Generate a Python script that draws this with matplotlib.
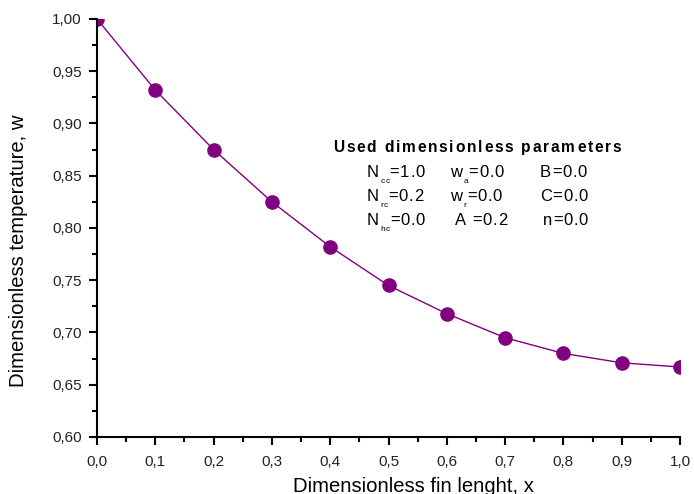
import matplotlib
matplotlib.use("Agg")
import matplotlib.pyplot as plt
from matplotlib.ticker import MultipleLocator, FuncFormatter
from matplotlib.font_manager import FontProperties, findfont, get_font

# ==========================================================
# Data
# ==========================================================

x_vals = [0.0, 0.1, 0.2, 0.3, 0.4, 0.5, 0.6, 0.7, 0.8, 0.9, 1.0]
w_vals = [1.000, 0.932, 0.875, 0.825, 0.782, 0.745, 0.718, 0.695, 0.680, 0.671, 0.667]

title_text = "Used dimensionless parameters"

# each entry: (main, subscript, rest)
param_rows = [
    [("N", "cc", "=1.0"), ("w", "a", "=0.0"), ("B", "", "=0.0")],
    [("N", "rc", "=0.2"), ("w", "r", "=0.0"), ("C", "", "=0.0")],
    [("N", "hc", "=0.0"), ("A", "", " =0.2"), ("n", "", "=0.0")],
]

PURPLE = "#800080"
W, H = 694, 494

plt.rcParams["font.family"] = ["Liberation Sans", "DejaVu Sans"]

fig = plt.figure(figsize=(W / 100, H / 100), dpi=100)
ax = fig.add_axes([97 / W, 57 / H, 583 / W, 418 / H])

ax.plot(x_vals, w_vals, color=PURPLE, lw=1.0, marker="o",
        markersize=9.5, markerfacecolor=PURPLE, markeredgecolor=PURPLE)

ax.set_xlim(0, 1.0)
ax.set_ylim(0.60, 1.00)

ax.xaxis.set_major_locator(MultipleLocator(0.1))
ax.xaxis.set_minor_locator(MultipleLocator(0.05))
ax.yaxis.set_major_locator(MultipleLocator(0.05))
ax.yaxis.set_minor_locator(MultipleLocator(0.025))

ax.xaxis.set_major_formatter(FuncFormatter(lambda v, p: f"{v:.1f}".replace(".", ",")))
ax.yaxis.set_major_formatter(FuncFormatter(lambda v, p: f"{v:.2f}".replace(".", ",")))

for s in ["top", "right"]:
    ax.spines[s].set_visible(False)
for s in ["left", "bottom"]:
    ax.spines[s].set_linewidth(1.5)

ax.tick_params(which="major", direction="out", length=6, width=1.5,
               labelsize=11, colors="black")
ax.tick_params(which="minor", direction="out", length=3.5, width=1.5)
ax.tick_params(axis="x", which="major", pad=7)
ax.tick_params(axis="y", which="major", pad=5)
for lbl in ax.get_xticklabels() + ax.get_yticklabels():
    lbl.set_color("#222222")

ax.set_xlabel("Dimensionless fin lenght, x", fontsize=14.6)
ax.set_ylabel("Dimensionless temperature, w", fontsize=14.6)
ax.xaxis.set_label_coords(0.542, -0.096)
ax.yaxis.set_label_coords(-0.118, 0.445)


# ==========================================================
# Letter-spaced text (placed char by char in pixel coords)
# ==========================================================

def put_chars(x_px, y_px, s, size, spacing, weight="normal"):
    prop = FontProperties(family="Liberation Sans", size=size, weight=weight)
    font = get_font(findfont(prop))
    font.set_size(size, 100)
    for ch in s:
        adv = font.load_char(ord(ch)).linearHoriAdvance / 65536
        if ch != " ":
            fig.text(x_px / W, 1 - y_px / H, ch, fontproperties=prop,
                     ha="left", va="baseline")
        x_px += adv + spacing
    return x_px


put_chars(333, 152, title_text, 11.2, 1.8, weight="bold")

col_x = [367, 450, 540]
row_y = [177, 201, 225]
for row, yy in zip(param_rows, row_y):
    for (main, sub, rest), xx in zip(row, col_x):
        if main == "n":
            xx += 3
        if main == "A":
            xx += 5
        cur = put_chars(xx, yy, main, 12, 0.7)
        if sub:
            cur = put_chars(cur + 1, yy + 6, sub, 6, 0.3)
        put_chars(cur, yy, rest, 12, 0.7)

fig.savefig("out.png", dpi=100)
